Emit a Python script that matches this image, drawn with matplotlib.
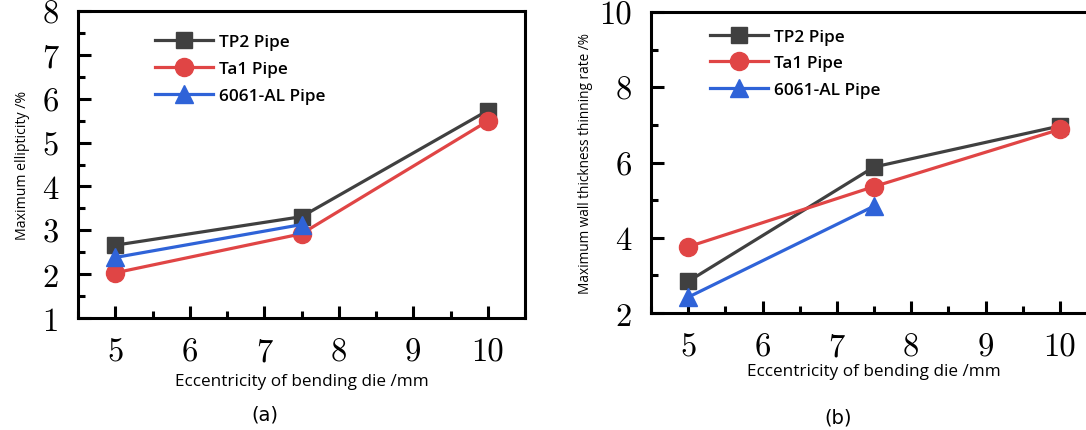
import matplotlib
matplotlib.use("Agg")
import matplotlib.pyplot as plt
from matplotlib.ticker import MultipleLocator

# ---- data ----
x_ecc = [5, 7.5, 10]
series_names = ["TP2 Pipe", "Ta1 Pipe", "6061-AL Pipe"]

# (a) maximum ellipticity /%
a_tp2 = [2.66, 3.31, 5.73]
a_ta1 = [2.03, 2.92, 5.49]
a_al = [2.38, 3.13]

# (b) maximum wall thickness thinning rate /%
b_tp2 = [2.84, 5.88, 6.97]
b_ta1 = [3.76, 5.36, 6.88]
b_al = [2.42, 4.84]

colors = ["#404040", "#e04545", "#2f63d8"]
markers = ["s", "o", "^"]
msizes = [11.5, 13, 13]

fig = plt.figure(figsize=(10.86, 4.31), dpi=100)

label_font = "Open Sans"


def style_axes(ax, xlim, ylim, ymajor, yminor):
    ax.set_xlim(*xlim)
    ax.set_ylim(*ylim)
    ax.xaxis.set_major_locator(MultipleLocator(1))
    ax.xaxis.set_minor_locator(MultipleLocator(0.5))
    ax.yaxis.set_major_locator(MultipleLocator(ymajor))
    ax.yaxis.set_minor_locator(MultipleLocator(yminor))
    for s in ax.spines.values():
        s.set_linewidth(2.2)
    ax.tick_params(which="major", direction="in", length=9, width=2.2,
                   top=False, right=False)
    ax.tick_params(which="minor", direction="in", length=5, width=2.2,
                   top=False, right=False)
    for lab in ax.get_xticklabels() + ax.get_yticklabels():
        lab.set_fontfamily("cmr10")
        lab.set_fontsize(23.5)
    ax.tick_params(axis="y", pad=14)
    ax.tick_params(axis="x", pad=14)


def plot_series(ax, ys):
    for name, y, c, m, ms in zip(series_names, ys, colors, markers, msizes):
        ax.plot(x_ecc[:len(y)], y, color=c, marker=m, markersize=ms,
                linewidth=2.3, label=name)


legend_kw = dict(loc="upper left", frameon=False, borderpad=0, borderaxespad=0,
                 prop=dict(family=label_font, weight="semibold", size=12.4),
                 handlelength=3.4, labelspacing=0.62, handletextpad=0.3)

# ---- (a) ----
ax1 = fig.add_axes([78 / 1086, (431 - 319) / 431, 447 / 1086, 307 / 431])
plot_series(ax1, [a_tp2, a_ta1, a_al])
style_axes(ax1, (4.5, 10.5), (1, 8), 1, 0.5)
ax1.set_xlabel("Eccentricity of bending die /mm", fontfamily=label_font,
               fontsize=12.3, labelpad=5)
ax1.set_ylabel("Maximum ellipticity /%", fontfamily=label_font,
               fontsize=10.2, labelpad=9)
ax1.legend(bbox_to_anchor=(0.172, 0.925), **legend_kw)
fig.text(265 / 1086, 1 - 415 / 431, "(a)", ha="center", va="center",
         fontfamily="DejaVu Sans", fontsize=14)

# ---- (b) ----
ax2 = fig.add_axes([651 / 1086, (431 - 314) / 431, 446 / 1086, 301 / 431])
plot_series(ax2, [b_tp2, b_ta1, b_al])
style_axes(ax2, (4.5, 10.5), (2, 10), 2, 1)
ax2.set_xlabel("Eccentricity of bending die /mm", fontfamily=label_font,
               fontsize=12.3, labelpad=1)
ax2.set_ylabel("Maximum wall thickness thinning rate /%", fontfamily=label_font,
               fontsize=9.8, labelpad=4)
ax2.legend(bbox_to_anchor=(0.132, 0.945), **legend_kw)
fig.text(838 / 1086, 1 - 418 / 431, "(b)", ha="center", va="center",
         fontfamily="DejaVu Sans", fontsize=14)

fig.savefig("out.png", dpi=100)
